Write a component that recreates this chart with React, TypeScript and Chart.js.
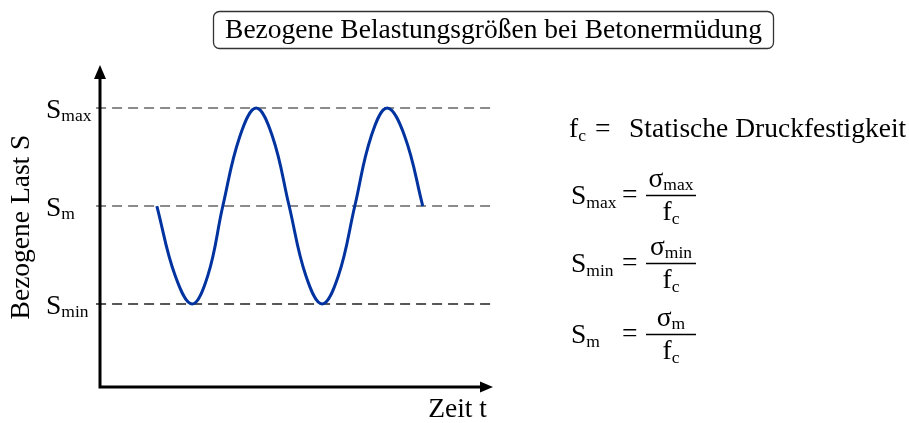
import React, { useEffect, useRef } from 'react';
import { Chart, registerables } from 'chart.js';

Chart.register(...registerables);

// ---- data ----
const timeValues = [1.74, 2.3, 2.82, 3.3, 3.76, 4.28, 4.78, 5.28, 5.79, 6.3, 6.8, 7.3, 7.8, 8.3, 8.79, 9.33, 9.88];
const loadValues = [0, -0.71, -1, -0.71, 0, 0.71, 1, 0.71, 0, -0.71, -1, -0.71, 0, 0.71, 1, 0.71, 0];
const levelValues = [1, 0, -1];
const levelSubscripts = ['max', 'm', 'min'];
const levelLineStart = -0.12;
const levelLineEnd = 12.03;
const titleText = 'Bezogene Belastungsgrößen bei Betonermüdung';
const yAxisTitle = 'Bezogene Last S';
const xAxisTitle = 'Zeit t';
const fcDefinition = 'Statische Druckfestigkeit';
const formulaSubscripts = ['max', 'min', 'm'];

const FONT = '"Liberation Serif", "Times New Roman", serif';
const MAIN = 27.5;
const SUB = 17.5;

function drawSub(ctx: CanvasRenderingContext2D, x: number, y: number, main: string, sub: string, subDy = 3.5) {
  ctx.font = `${MAIN}px ${FONT}`;
  ctx.fillText(main, x, y);
  const w = ctx.measureText(main).width;
  ctx.font = `${SUB}px ${FONT}`;
  ctx.fillText(sub, x + w, y + subDy);
  const ws = ctx.measureText(sub).width;
  return w + ws;
}

function measureSub(ctx: CanvasRenderingContext2D, main: string, sub: string) {
  ctx.font = `${MAIN}px ${FONT}`;
  const w = ctx.measureText(main).width;
  ctx.font = `${SUB}px ${FONT}`;
  return w + ctx.measureText(sub).width;
}

const decorPlugin = {
  id: 'decor',
  afterDraw(chart: any) {
    const ctx: CanvasRenderingContext2D = chart.ctx;
    const xs = chart.scales.x;
    const ys = chart.scales.y;
    ctx.save();
    ctx.fillStyle = '#000';
    ctx.strokeStyle = '#000';
    ctx.textAlign = 'left';
    ctx.textBaseline = 'alphabetic';

    // axes with arrows
    const x0 = xs.getPixelForValue(0);
    const yBottom = ys.getPixelForValue(ys.min);
    const yTop = ys.getPixelForValue(ys.max);
    const xRight = xs.getPixelForValue(xs.max);
    ctx.lineWidth = 3;
    ctx.beginPath();
    ctx.moveTo(x0, yBottom + 1.5);
    ctx.lineTo(x0, yTop + 10);
    ctx.moveTo(x0 - 1.5, yBottom);
    ctx.lineTo(xRight - 10, yBottom);
    ctx.stroke();
    ctx.beginPath();
    ctx.moveTo(x0, yTop);
    ctx.lineTo(x0 - 6, yTop + 14);
    ctx.lineTo(x0 + 6, yTop + 14);
    ctx.closePath();
    ctx.fill();
    ctx.beginPath();
    ctx.moveTo(xRight + 1, yBottom);
    ctx.lineTo(xRight - 12, yBottom - 5.5);
    ctx.lineTo(xRight - 12, yBottom + 5.5);
    ctx.closePath();
    ctx.fill();

    // level labels
    levelValues.forEach((v, i) => {
      const py = ys.getPixelForValue(v);
      drawSub(ctx, 46, py + 10, 'S', levelSubscripts[i], 3);
    });

    // y-axis title
    ctx.save();
    ctx.translate(29, 227);
    ctx.rotate(-Math.PI / 2);
    ctx.font = `${MAIN}px ${FONT}`;
    ctx.textAlign = 'center';
    ctx.fillText(yAxisTitle, 0, 0);
    ctx.restore();

    // x-axis title
    ctx.font = `${MAIN}px ${FONT}`;
    ctx.textAlign = 'right';
    ctx.fillText(xAxisTitle, 487, 417);
    ctx.textAlign = 'left';

    // title with rounded box
    ctx.font = `${MAIN}px ${FONT}`;
    ctx.textAlign = 'center';
    ctx.fillText(titleText, 493.5, 38);
    ctx.textAlign = 'left';
    ctx.lineWidth = 1.3;
    ctx.strokeStyle = '#333';
    ctx.beginPath();
    (ctx as any).roundRect(213.5, 11.5, 560, 37, 6);
    ctx.stroke();

    // f_c definition
    ctx.strokeStyle = '#000';
    drawSub(ctx, 569, 137, 'f', 'c', 4);
    ctx.font = `${MAIN}px ${FONT}`;
    ctx.fillText('=', 595, 137);
    ctx.fillText(fcDefinition, 629, 137);

    // formulas
    const barYs = [195, 263, 334];
    formulaSubscripts.forEach((s, i) => {
      const by = barYs[i];
      drawSub(ctx, 571, by + 8.5, 'S', s, 4);
      ctx.font = `${MAIN}px ${FONT}`;
      ctx.fillText('=', 622, by + 7.5);
      ctx.lineWidth = 1.3;
      ctx.beginPath();
      ctx.moveTo(646, by + 0.5);
      ctx.lineTo(696, by + 0.5);
      ctx.stroke();
      const nw = measureSub(ctx, 'σ', s);
      drawSub(ctx, 671 - nw / 2, by - 8, 'σ', s, 2.5);
      const dw = measureSub(ctx, 'f', 'c');
      drawSub(ctx, 671 - dw / 2, by + 25, 'f', 'c', 4);
    });

    ctx.restore();
  },
};

export default function App() {
  const ref = useRef<HTMLCanvasElement | null>(null);
  useEffect(() => {
    document.body.style.margin = '0';
    const canvas = ref.current;
    if (!canvas) return;
    const levelColors = ['#666666', '#666666', '#222222'];
    const levelSets = levelValues.map((v, i) => ({
      data: [
        { x: levelLineStart, y: v },
        { x: levelLineEnd, y: v },
      ],
      borderColor: levelColors[i],
      borderWidth: 1.5,
      borderDash: [10, 6],
      pointRadius: 0,
      clip: false as any,
      tension: 0,
    }));
    const chart = new Chart(canvas, {
      type: 'line',
      data: {
        datasets: [
          {
            data: timeValues.map((t, i) => ({ x: t, y: loadValues[i] })),
            borderColor: '#0033a0',
            borderWidth: 3,
            pointRadius: 0,
            tension: 0.4,
            fill: false,
          },
          ...levelSets,
        ] as any,
      },
      options: {
        responsive: false,
        animation: false,
        events: [],
        layout: { padding: { left: 100, right: 417, top: 65, bottom: 36 } },
        plugins: { legend: { display: false }, title: { display: false }, tooltip: { enabled: false } },
        scales: {
          x: { type: 'linear', min: 0, max: 12, display: false },
          y: { type: 'linear', min: -1.847, max: 1.439, display: false },
        },
      },
      plugins: [decorPlugin],
    });
    return () => chart.destroy();
  }, []);
  return (
    <div style={{ width: 909, height: 423, position: 'relative', background: '#fff' }}>
      <canvas ref={ref} width={909} height={423} style={{ display: 'block' }} />
    </div>
  );
}
